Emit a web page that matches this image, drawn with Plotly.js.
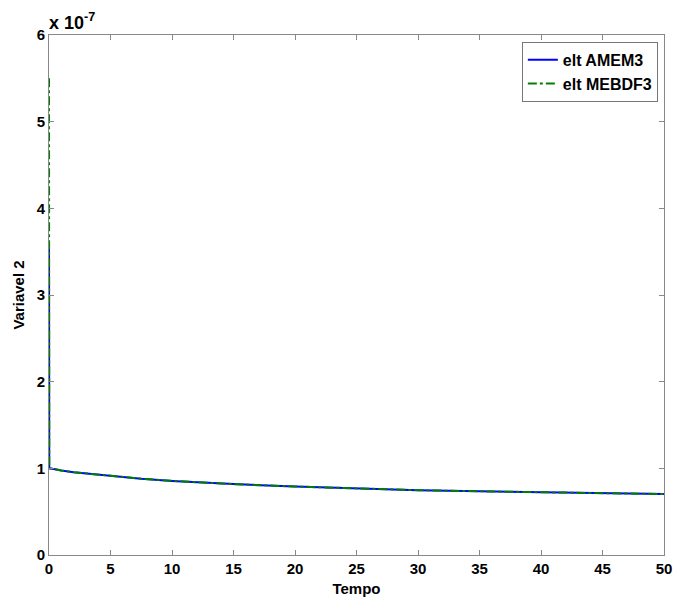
<!DOCTYPE html>
<html>
<head>
<meta charset="utf-8">
<script src="https://cdn.plot.ly/plotly-3.0.1.min.js"></script>
<style>html,body{margin:0;padding:0;background:#fff;}#chart{width:675px;height:601px;}</style>
</head>
<body>
<div id="chart"></div>
<script>
// values in units of 1e-7
const tempo = [0, 0.02, 0.5, 1, 2, 3, 5, 7.5, 10, 15, 20, 25, 30, 35, 40, 45, 50];
const amem3 = [3.6, 1.00, 0.99, 0.975, 0.955, 0.94, 0.91, 0.88, 0.855, 0.818, 0.79, 0.768, 0.748, 0.735, 0.722, 0.712, 0.703];
const mebdf3 = [5.5, 1.00, 0.99, 0.975, 0.955, 0.94, 0.91, 0.88, 0.855, 0.818, 0.79, 0.768, 0.748, 0.735, 0.722, 0.712, 0.703];
const seriesNames = ['elt AMEM3', 'elt MEBDF3'];
const xTicks = [0, 5, 10, 15, 20, 25, 30, 35, 40, 45, 50];
const yTicks = [0, 1, 2, 3, 4, 5, 6];

const fam = 'Liberation Sans, Arial, sans-serif';
const bold = (s) => ({family: fam, size: s, color: '#000', weight: 'bold'});
const traces = [
  {x: tempo, y: amem3, name: seriesNames[0], mode: 'lines', line: {color: '#0000ff', width: 2}},
  {x: tempo, y: mebdf3, name: seriesNames[1], mode: 'lines', line: {color: '#008000', width: 2, dash: 'dashdot'}}
];
const axisCommon = {
  showgrid: false, zeroline: false, showline: true, mirror: 'ticks',
  linecolor: '#888', linewidth: 1, ticks: 'inside', ticklen: 5, tickcolor: '#888',
  tickfont: bold(15)
};
const layout = {
  width: 675, height: 601,
  margin: {l: 49, r: 11, t: 35, b: 46},
  paper_bgcolor: '#fff', plot_bgcolor: '#fff',
  font: bold(15),
  showlegend: true,
  legend: {x: 0.99, y: 0.987, xanchor: 'right', yanchor: 'top', bgcolor: '#fff',
    bordercolor: '#777', borderwidth: 1, tracegroupgap: 0, itemwidth: 30,
    font: bold(16)},
  xaxis: Object.assign({}, axisCommon, {range: [0, 50], tickvals: xTicks, ticktext: xTicks.map(String),
    title: {text: 'Tempo', standoff: 7, font: bold(15)}}),
  yaxis: Object.assign({}, axisCommon, {range: [0, 6], tickvals: yTicks, ticktext: yTicks.map(String),
    title: {text: 'Variavel 2', standoff: 8, font: bold(15)}}),
  annotations: [{xref: 'paper', yref: 'paper', x: 0, y: 1, xanchor: 'left', yanchor: 'bottom', yshift: 0, xshift: -2,
    showarrow: false, text: 'x 10<sup>-7</sup>', font: bold(18)}]
};
Plotly.newPlot('chart', traces, layout, {displayModeBar: false, staticPlot: true});
</script>
</body>
</html>
